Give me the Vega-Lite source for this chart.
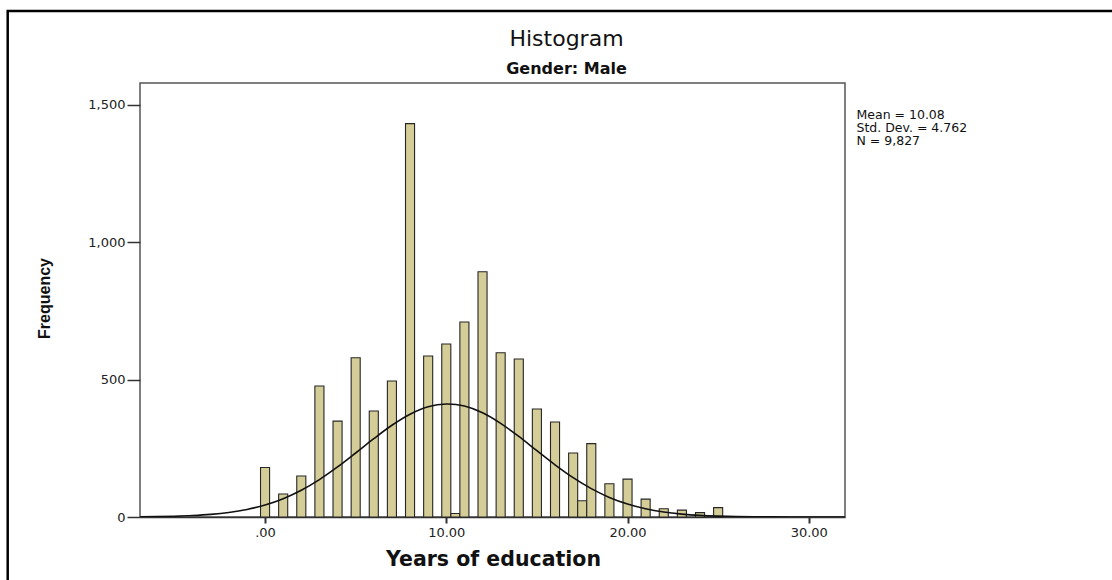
{
  "$schema": "https://vega.github.io/schema/vega-lite/v6.json",
  "autosize": {"type": "none"},
  "padding": {"left": 140, "top": 83, "right": 267, "bottom": 63},
  "width": 705,
  "height": 434,
  "background": "white",
  "title": {
    "text": "Histogram",
    "subtitle": "Gender: Male",
    "anchor": "middle",
    "frame": "group",
    "dx": 74,
    "font": "DejaVu Sans",
    "fontSize": 22,
    "fontWeight": "normal",
    "color": "#111111",
    "subtitleFont": "DejaVu Sans",
    "subtitleFontSize": 16,
    "subtitleFontWeight": "bold",
    "subtitleColor": "#111111",
    "subtitlePadding": 10,
    "offset": -68.5
  },
  "datasets": {
    "bars": [
      {"bin_start": -0.25, "bin_end": 0.25, "count": 180},
      {"bin_start": 0.75, "bin_end": 1.25, "count": 84},
      {"bin_start": 1.75, "bin_end": 2.25, "count": 149},
      {"bin_start": 2.75, "bin_end": 3.25, "count": 477},
      {"bin_start": 3.75, "bin_end": 4.25, "count": 349},
      {"bin_start": 4.75, "bin_end": 5.25, "count": 580},
      {"bin_start": 5.75, "bin_end": 6.25, "count": 386},
      {"bin_start": 6.75, "bin_end": 7.25, "count": 495},
      {"bin_start": 7.75, "bin_end": 8.25, "count": 1432},
      {"bin_start": 8.75, "bin_end": 9.25, "count": 586},
      {"bin_start": 9.75, "bin_end": 10.25, "count": 630},
      {"bin_start": 10.25, "bin_end": 10.75, "count": 13},
      {"bin_start": 10.75, "bin_end": 11.25, "count": 710},
      {"bin_start": 11.75, "bin_end": 12.25, "count": 893},
      {"bin_start": 12.75, "bin_end": 13.25, "count": 598},
      {"bin_start": 13.75, "bin_end": 14.25, "count": 575},
      {"bin_start": 14.75, "bin_end": 15.25, "count": 393},
      {"bin_start": 15.75, "bin_end": 16.25, "count": 346},
      {"bin_start": 16.75, "bin_end": 17.25, "count": 233},
      {"bin_start": 17.25, "bin_end": 17.75, "count": 59},
      {"bin_start": 17.75, "bin_end": 18.25, "count": 267},
      {"bin_start": 18.75, "bin_end": 19.25, "count": 121},
      {"bin_start": 19.75, "bin_end": 20.25, "count": 138},
      {"bin_start": 20.75, "bin_end": 21.25, "count": 65},
      {"bin_start": 21.75, "bin_end": 22.25, "count": 30},
      {"bin_start": 22.75, "bin_end": 23.25, "count": 25},
      {"bin_start": 23.75, "bin_end": 24.25, "count": 16},
      {"bin_start": 24.75, "bin_end": 25.25, "count": 34}
    ],
    "curve": [
      {"x": -7, "y": 0.66}, {"x": -6, "y": 1.38}, {"x": -5, "y": 2.73}, {"x": -4, "y": 5.2},
      {"x": -3, "y": 9.47}, {"x": -2, "y": 16.48}, {"x": -1, "y": 27.47}, {"x": 0, "y": 43.81},
      {"x": 1, "y": 66.83}, {"x": 2, "y": 97.56}, {"x": 3, "y": 136.29}, {"x": 4, "y": 182.17},
      {"x": 5, "y": 233.0}, {"x": 6, "y": 285.1}, {"x": 7, "y": 333.9}, {"x": 8, "y": 374.2},
      {"x": 9, "y": 401.2}, {"x": 10, "y": 411.5}, {"x": 10.08, "y": 411.6}, {"x": 11, "y": 404.0},
      {"x": 12, "y": 379.5}, {"x": 13, "y": 341.1}, {"x": 14, "y": 293.3}, {"x": 15, "y": 241.4},
      {"x": 16, "y": 190.1}, {"x": 17, "y": 143.2}, {"x": 18, "y": 103.2}, {"x": 19, "y": 71.2},
      {"x": 20, "y": 47.0}, {"x": 21, "y": 29.7}, {"x": 22, "y": 17.9}, {"x": 23, "y": 10.4},
      {"x": 24, "y": 5.74}, {"x": 25, "y": 3.04}, {"x": 26, "y": 1.54}, {"x": 27, "y": 0.75},
      {"x": 28, "y": 0.35}, {"x": 29, "y": 0.15}, {"x": 30, "y": 0.06}, {"x": 31, "y": 0.02},
      {"x": 32, "y": 0.01}
    ],
    "stats": [
      {"stat": "Mean = 10.08"},
      {"stat": "Std. Dev. = 4.762"},
      {"stat": "N = 9,827"}
    ]
  },
  "layer": [
    {
      "data": {"values": [{"frame": "outer"}]},
      "mark": {"type": "rect", "filled": false, "stroke": "#000000", "strokeWidth": 2.5},
      "encoding": {
        "x": {"datum": -14.2, "type": "quantitative", "scale": {"domain": [-6.9, 32], "nice": false, "zero": false, "padding": 0}},
        "x2": {"datum": 50},
        "y": {"datum": 1842, "type": "quantitative", "scale": {"domain": [0, 1580], "nice": false, "padding": 0}},
        "y2": {"datum": -400}
      }
    },
    {
      "data": {"name": "bars"},
      "mark": {"type": "bar", "fill": "#d4cd98", "stroke": "#262626", "strokeWidth": 1.1, "orient": "vertical"},
      "encoding": {
        "x": {
          "field": "bin_start", "type": "quantitative",
          "scale": {"domain": [-6.9, 32], "nice": false, "zero": false, "padding": 0},
          "axis": {
            "values": [0, 10, 20, 30],
            "labelExpr": "datum.value == 0 ? '.00' : format(datum.value, '.2f')",
            "title": "Years of education",
            "titleFont": "DejaVu Sans",
            "titleFontSize": 20.5,
            "titleFontWeight": "bold",
            "titleColor": "#111111",
            "titleBaseline": "alphabetic",
            "titleX": 353,
            "titleY": 48.5,
            "grid": false,
            "tickSize": 6,
            "tickColor": "#333333",
            "tickWidth": 2,
            "domainColor": "#333333",
            "domainWidth": 1.5,
            "labelFont": "DejaVu Sans",
            "labelFontSize": 13,
            "labelColor": "#222222",
            "labelBaseline": "alphabetic",
            "labelPadding": 13,
            "labelFlush": false
          }
        },
        "x2": {"field": "bin_end"},
        "y": {
          "field": "count", "type": "quantitative",
          "scale": {"domain": [0, 1580], "nice": false, "padding": 0},
          "axis": {
            "values": [0, 500, 1000, 1500],
            "format": ",.0f",
            "title": "Frequency",
            "titleFont": "Liberation Sans",
            "titleFontSize": 16,
            "titleFontWeight": "bold",
            "titleColor": "#111111",
            "titleAngle": -90,
            "titleAlign": "center",
            "titleBaseline": "alphabetic",
            "titleX": -91,
            "titleY": 215,
            "grid": false,
            "domain": false,
            "tickSize": 13,
            "tickColor": "#333333",
            "tickWidth": 1.5,
            "labelPadding": 2,
            "labelFont": "DejaVu Sans",
            "labelFontSize": 13,
            "labelColor": "#222222"
          }
        },
        "y2": {"datum": 0}
      }
    },
    {
      "data": {"name": "curve"},
      "mark": {"type": "line", "color": "#111111", "strokeWidth": 1.6, "interpolate": "monotone", "clip": true},
      "encoding": {
        "x": {"field": "x", "type": "quantitative", "scale": {"domain": [-6.9, 32], "nice": false, "zero": false, "padding": 0}},
        "y": {"field": "y", "type": "quantitative", "scale": {"domain": [0, 1580], "nice": false, "padding": 0}}
      }
    },
    {
      "data": {"name": "stats"},
      "mark": {"type": "point", "opacity": 0},
      "encoding": {
        "color": {
          "field": "stat", "type": "nominal",
          "scale": {"domain": ["Mean = 10.08", "Std. Dev. = 4.762", "N = 9,827"], "range": ["#000000", "#000000", "#000000"]},
          "legend": {
            "title": null,
            "orient": "none",
            "legendX": 704,
            "legendY": 26,
            "symbolSize": 0,
            "symbolOpacity": 0,
            "symbolStrokeWidth": 0,
            "labelOffset": 0,
            "labelFont": "DejaVu Sans",
            "labelFontSize": 12.5,
            "labelColor": "#111111",
            "labelLimit": 300,
            "rowPadding": -5,
            "padding": 0
          }
        }
      }
    }
  ],
  "config": {
    "font": "DejaVu Sans",
    "view": {"fill": "#f0f0f0", "stroke": "#555555", "strokeWidth": 1.5}
  }
}
